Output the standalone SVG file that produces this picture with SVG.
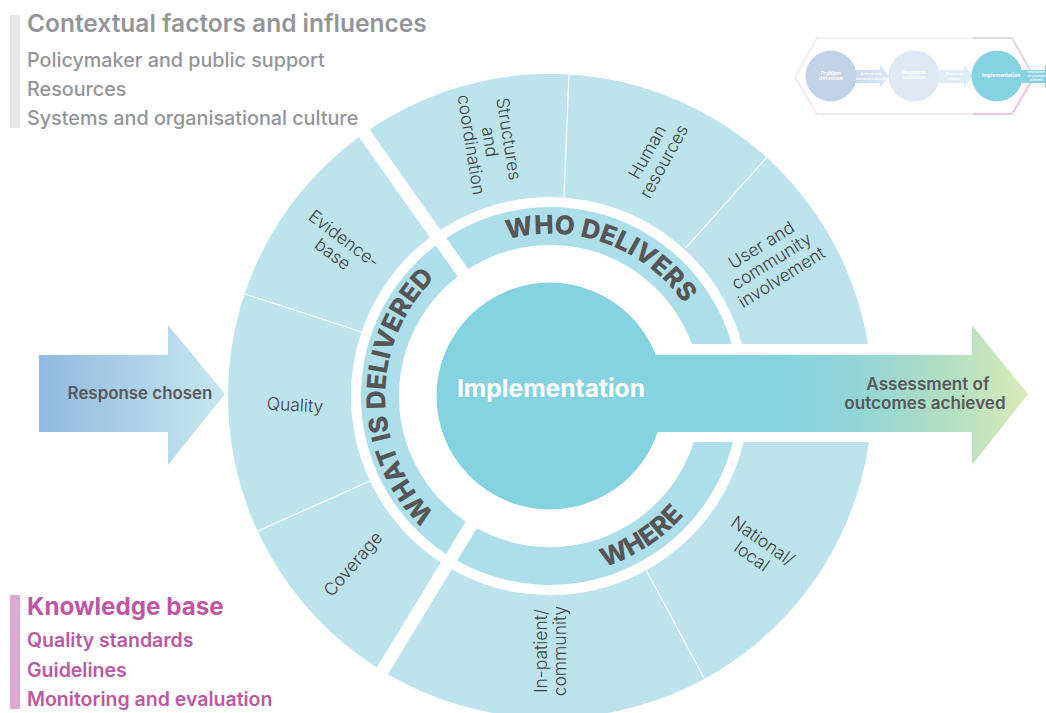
<svg xmlns="http://www.w3.org/2000/svg" xmlns:xlink="http://www.w3.org/1999/xlink" width="1046" height="713" viewBox="0 0 1046 713">
<style>
text{font-family:"Inter","Liberation Sans",sans-serif}
.outer{fill:#bde4ed}
.inner{fill:#addfea}
.sep{stroke:#fff;stroke-width:1.2;fill:none}
.lab{font-size:17.5px;fill:#404042;text-anchor:middle;font-weight:300}
.ring{font-size:26px;font-weight:800;fill:#565658}
.ctx{font-weight:500;fill:#939598;font-size:19.75px}
.kb{font-weight:600;fill:#bd57a3;font-size:19.5px}
.arrowtxt{font-weight:600;fill:#58595b;text-anchor:middle}
.tiny{fill:#fff;font-size:3.6px;text-anchor:middle;font-weight:600}
.tinyb{fill:#fff;font-size:5px;text-anchor:middle;font-weight:700}
</style>
<defs>
<linearGradient id="gIn" gradientUnits="userSpaceOnUse" x1="39" y1="0" x2="225" y2="0"><stop offset="0" stop-color="#8fb9df"/><stop offset="1" stop-color="#c8e8ef"/></linearGradient>
<linearGradient id="gOut" gradientUnits="userSpaceOnUse" x1="640" y1="0" x2="1028" y2="0"><stop offset="0" stop-color="#85d3e0"/><stop offset="0.36" stop-color="#86d3df"/><stop offset="0.55" stop-color="#91d4d7"/><stop offset="0.8" stop-color="#b3dfc2"/><stop offset="1" stop-color="#d9ebb8"/></linearGradient>
<linearGradient id="gT1" gradientUnits="userSpaceOnUse" x1="855" y1="0" x2="889" y2="0"><stop offset="0" stop-color="#c9d9ec"/><stop offset="1" stop-color="#dbe6f3"/></linearGradient>
<linearGradient id="gT2" gradientUnits="userSpaceOnUse" x1="939" y1="0" x2="973" y2="0"><stop offset="0" stop-color="#e4ecf6"/><stop offset="1" stop-color="#d9eef3"/></linearGradient>
<path id="pWho" d="M507.500 239.500A162.500 162.500 0 0 1 699 331"/>
<path id="pWhat" d="M435 514A165 165 0 0 1 550 231"/>
<path id="pWhere" d="M604.500 567A179.500 179.500 0 0 0 720.500 341"/>
</defs>
<rect width="1046" height="713" fill="#fff"/>

<g id="context">
<rect x="10" y="15" width="10" height="113" fill="#e6e7e8"/>
<text x="27" y="32" font-size="24.500" font-weight="600" fill="#939598">Contextual factors and influences</text>
<text class="ctx" x="27" y="67">Policymaker and public support</text>
<text class="ctx" x="27" y="96">Resources</text>
<text class="ctx" x="27" y="125">Systems and organisational culture</text>
</g>
<g id="knowledge">
<rect x="10" y="595" width="10" height="114" fill="#dca9d1"/>
<text x="27" y="615" font-size="24.200" font-weight="700" fill="#bd57a3">Knowledge base</text>
<text class="kb" x="27" y="647">Quality standards</text>
<text class="kb" x="27" y="677">Guidelines</text>
<text class="kb" x="27" y="706">Monitoring and evaluation</text>
</g>

<g id="who-outer">
<path class="outer" d="M369.500 129.400A322 322 0 0 1 868 344H742A199 199 0 0 0 440.500 229.900Z"/>
<text class="lab" transform="translate(489 142) rotate(81)"><tspan x="0" y="-14">Structures</tspan><tspan x="0" y="5">and</tspan><tspan x="0" y="24">coordination</tspan></text>
<text class="lab" transform="translate(656 157) rotate(-61)"><tspan x="0" y="-4">Human</tspan><tspan x="0" y="15">resources</tspan></text>
<text class="lab" transform="translate(772 262) rotate(-32)"><tspan x="0" y="-14">User and</tspan><tspan x="0" y="5">community</tspan><tspan x="0" y="24">involvement</tspan></text>
</g>
<g id="what-outer">
<path class="outer" d="M376.700 667.500A322 322 0 0 1 358.900 136.900L429.900 237.400A199 199 0 0 0 440.800 562.500Z"/>
<text class="lab" transform="translate(338 247) rotate(37)"><tspan x="0" y="-4">Evidence-</tspan><tspan x="0" y="15">base</tspan></text>
<text class="lab" transform="translate(295 405) rotate(3)" y="6">Quality</text>
<text class="lab" transform="translate(353 564) rotate(-49)" y="6">Coverage</text>
</g>
<g id="where-outer">
<path class="outer" d="M869 442A322 322 0 0 1 387.900 674.300L451.900 569.300A199 199 0 0 0 743.600 442Z"/>
<text class="lab" transform="translate(757 549) rotate(35)"><tspan x="0" y="-4">National/</tspan><tspan x="0" y="15">local</tspan></text>
<text class="lab" transform="translate(551 651) rotate(-90)"><tspan x="0" y="-4">In-patient/</tspan><tspan x="0" y="15">community</tspan></text>
</g>
<g id="connectors">
<line class="sep" x1="569" y1="74" x2="564" y2="197"/>
<line class="sep" x1="767" y1="157" x2="685.700" y2="248"/>
<line class="sep" x1="245" y1="294" x2="361.700" y2="332"/>
<line class="sep" x1="258" y1="531" x2="370" y2="481"/>
<line class="sep" x1="646.700" y1="571" x2="704" y2="678"/>
</g>
<g id="who-delivers">
<path class="inner" d="M446.300 238A189 189 0 0 1 731.700 344H691.800A151 151 0 0 0 468.300 269Z"/>
<text class="ring"><textPath xlink:href="#pWho" href="#pWho">WHO DELIVERS</textPath></text>
</g>
<g id="what-delivered">
<path class="inner" d="M446 553.900A189 189 0 0 1 435.700 245.500L457.700 276.600A151 151 0 0 0 465.800 521.500Z"/>
<text class="ring"><textPath xlink:href="#pWhat" href="#pWhat">WHAT IS DELIVERED</textPath></text>
</g>
<g id="where">
<path class="inner" d="M733 442A189 189 0 0 1 457.100 560.700L476.900 528.300A151 151 0 0 0 693.800 442Z"/>
<text class="ring"><textPath xlink:href="#pWhere" href="#pWhere">WHERE</textPath></text>
</g>

<g id="response-chosen">
<path d="M39 355H168V325L225 394L168 465V432H39Z" fill="url(#gIn)"/>
<text class="arrowtxt" font-size="16.900" x="140" y="399">Response chosen</text>
</g>
<g id="implementation">
<circle cx="550" cy="396" r="113.500" fill="#85d3e0"/>
<path d="M620 355H972V325L1028 394L972 465V432H620Z" fill="url(#gOut)"/>
<text x="551" y="397" font-size="24.600" font-weight="700" fill="#fff" text-anchor="middle">Implementation</text>
</g>
<g id="assessment">
<text class="arrowtxt" font-size="17.100" x="928" y="390">Assessment of</text>
<text class="arrowtxt" font-size="17.100" x="925" y="409">outcomes achieved</text>
</g>

<g id="thumbnail">
<path d="M973 38H817L795 77" fill="none" stroke="#f1f1f2" stroke-width="2.200"/>
<path d="M795 77L817 114H973" fill="none" stroke="#f6e8f3" stroke-width="2.200"/>
<path d="M973 38H1012L1034 77" fill="none" stroke="#dcdcdd" stroke-width="2.200"/>
<path d="M1034 77L1012 114H973" fill="none" stroke="#e8c9e2" stroke-width="2.200"/>
<path d="M855 70H880V65L889 76L880 88V83H855Z" fill="url(#gT1)"/>
<path d="M939 70H964V65L973 76L964 88V83H939Z" fill="url(#gT2)"/>
<path d="M1022 70H1045V65L1046 66V87L1045 88V83H1022Z" fill="#85d3e0"/>
<circle cx="831" cy="76" r="25.500" fill="#c2d3e8"/>
<circle cx="914" cy="76" r="25.500" fill="#dfe8f4"/>
<circle cx="997" cy="76" r="25.500" fill="#85d3e0"/>
<text class="tinyb"><tspan x="831" y="75">Problem</tspan><tspan x="831" y="80">definition</tspan></text>
<text class="tinyb"><tspan x="914" y="74">Response</tspan><tspan x="914" y="79">selection</tspan></text>
<text class="tinyb" x="1001" y="77">Implementation</text>
<text class="tiny"><tspan x="871" y="75">Amount and</tspan><tspan x="871" y="80">outcomes sought</tspan></text>
<text class="tiny"><tspan x="954" y="75">Response</tspan><tspan x="954" y="80">chosen</tspan></text>
<text class="tiny" style="font-size:2.800px"><tspan x="1036" y="72.500">Assessment</tspan><tspan x="1036" y="76.500">of outcomes</tspan><tspan x="1036" y="80.500">achieved</tspan></text>
</g>
</svg>
